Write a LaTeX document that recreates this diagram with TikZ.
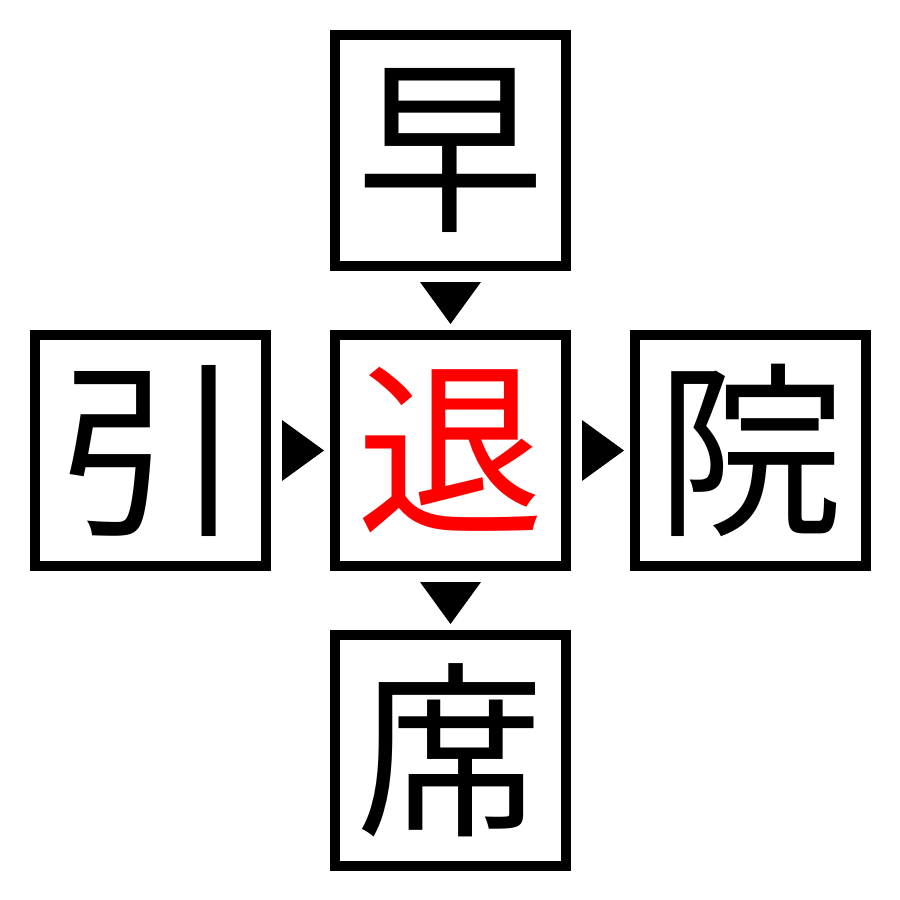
\documentclass[tikz,border=0pt]{standalone}
\usepackage{fontspec}
\newfontfamily\cjk{Noto Sans CJK JP}
\usetikzlibrary{calc}
\begin{document}
\begin{tikzpicture}[x=1pt,y=-1pt]
\tikzset{
  kbox/.style={draw, line width=10pt, minimum size=231pt, inner sep=0pt, text=black,
    font=\cjk\fontsize{188}{188}\selectfont},
  tri/.style={fill=black, draw=none}
}
\useasboundingbox (0,0) rectangle (900,900);
\node[kbox] (top) at (450.5,150.5) {早};
\node[kbox, text=red] (mid) at (450.5,450.5) {退};
\node[kbox] (lft) at (150.5,450.5) {引};
\node[kbox] (rgt) at (750.5,450.5) {院};
\node[kbox] (bot) at (450.5,750.5) {席};
% down triangles
\fill[tri] ($(top.south)+(-30.5,11)$) -- ($(top.south)+(30.5,11)$) -- ($(mid.north)+(0,-6)$) -- cycle;
\fill[tri] ($(mid.south)+(-30.5,11)$) -- ($(mid.south)+(30.5,11)$) -- ($(bot.north)+(0,-6)$) -- cycle;
% right triangles
\fill[tri] ($(lft.east)+(11,-30.5)$) -- ($(lft.east)+(11,30.5)$) -- ($(mid.west)+(-6,0)$) -- cycle;
\fill[tri] ($(mid.east)+(11,-30.5)$) -- ($(mid.east)+(11,30.5)$) -- ($(rgt.west)+(-6,0)$) -- cycle;
\end{tikzpicture}
\end{document}
